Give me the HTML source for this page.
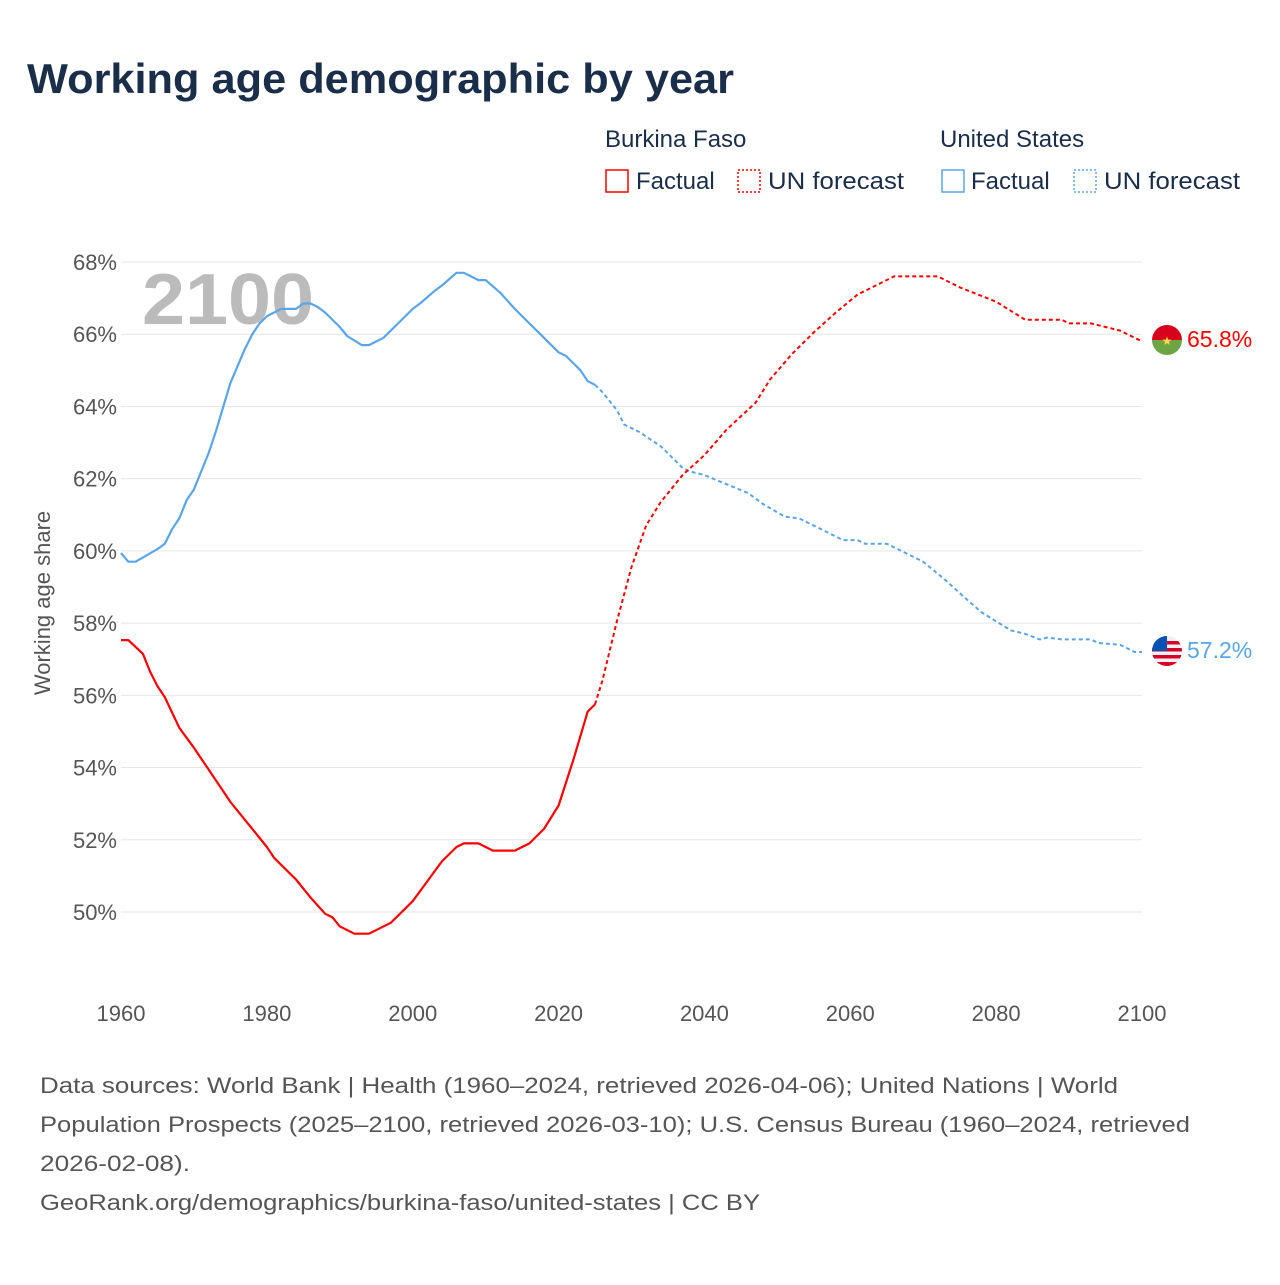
<!DOCTYPE html>
<html><head><meta charset="utf-8"><style>
body{margin:0;background:#fff;font-family:"Liberation Sans",sans-serif;}
#wrap{position:relative;width:1280px;height:1280px;}
</style></head><body><div id="wrap">
<svg id="svg" width="1280" height="1280">
<text x="27" y="93" font-size="42" font-weight="bold" fill="#1a2e4a" textLength="707" lengthAdjust="spacingAndGlyphs">Working age demographic by year</text>
<g font-size="24" fill="#1a2e4a">
<text x="605" y="147">Burkina Faso</text>
<text x="940" y="147">United States</text>
<g><rect x="606" y="170" width="22" height="22" fill="none" stroke="#f00" stroke-width="1.5"/><text x="636" y="189">Factual</text></g>
<g><rect x="738" y="170" width="22" height="22" fill="none" stroke="#f00" stroke-width="1.5" stroke-dasharray="2,2"/><text x="768" y="189" textLength="136" lengthAdjust="spacingAndGlyphs">UN forecast</text></g>
<g><rect x="942" y="170" width="22" height="22" fill="none" stroke="#5aa5e8" stroke-width="1.5"/><text x="971" y="189">Factual</text></g>
<g><rect x="1074" y="170" width="22" height="22" fill="none" stroke="#5aa5e8" stroke-width="1.5" stroke-dasharray="2,2"/><text x="1104" y="189" textLength="136" lengthAdjust="spacingAndGlyphs">UN forecast</text></g>
</g>
<text x="142" y="324" font-size="72" font-weight="bold" fill="#bbb" textLength="172" lengthAdjust="spacingAndGlyphs">2100</text>
<g id="grid"></g><g id="lines"></g>
<text transform="translate(50,603) rotate(-90)" text-anchor="middle" font-size="22" fill="#555">Working age share</text>
<g><clipPath id="c1"><circle cx="1167" cy="340" r="15"/></clipPath><g clip-path="url(#c1)"><rect x="1150" y="325" width="34" height="15" fill="#d9001b"/><rect x="1150" y="340" width="34" height="16" fill="#6da544"/></g><text x="1167" y="345" font-size="12" text-anchor="middle" fill="#ffda44">★</text></g>
<g><clipPath id="c2"><circle cx="1167" cy="651" r="15"/></clipPath><g clip-path="url(#c2)"><rect x="1150" y="636" width="34" height="30" fill="#f0f0f0"/><rect x="1150" y="641" width="34" height="3.5" fill="#d80027"/><rect x="1150" y="648" width="34" height="3.5" fill="#d80027"/><rect x="1150" y="655" width="34" height="3.5" fill="#d80027"/><rect x="1150" y="662" width="34" height="4" fill="#d80027"/><rect x="1150" y="636" width="17" height="15" fill="#0052b4"/></g></g>
<text x="1187" y="347" font-size="23" fill="#f00">65.8%</text>
<text x="1187" y="658" font-size="23" fill="#5aa5e8">57.2%</text>
<g font-size="22" fill="#555">
<text x="40" y="1093" textLength="1078" lengthAdjust="spacingAndGlyphs">Data sources: World Bank | Health (1960–2024, retrieved 2026-04-06); United Nations | World</text>
<text x="40" y="1132" textLength="1150" lengthAdjust="spacingAndGlyphs">Population Prospects (2025–2100, retrieved 2026-03-10); U.S. Census Bureau (1960–2024, retrieved</text>
<text x="40" y="1171" textLength="150" lengthAdjust="spacingAndGlyphs">2026-02-08).</text>
<text x="40" y="1210" textLength="720" lengthAdjust="spacingAndGlyphs">GeoRank.org/demographics/burkina-faso/united-states | CC BY</text>
</g>
</svg></div>
<script>
const usYears=[1960,1961,1962,1965,1966,1967,1968,1969,1970,1972,1973,1975,1977,1978,1979,1980,1982,1984,1985,1986,1987,1988,1990,1991,1993,1994,1996,1998,2000,2001,2003,2004,2006,2007,2008,2009,2010,2012,2014,2016,2018,2020,2021,2023,2024,2025,2026,2028,2029,2031,2034,2037,2038,2040,2043,2046,2048,2051,2053,2056,2059,2061,2062,2065,2067,2070,2073,2076,2078,2080,2082,2084,2086,2087,2089,2093,2094,2097,2099,2100];
const usValues=[59.94,59.7,59.7,60.05,60.2,60.6,60.9,61.4,61.7,62.7,63.3,64.65,65.6,66.0,66.3,66.5,66.7,66.7,66.85,66.85,66.75,66.6,66.2,65.95,65.7,65.7,65.9,66.3,66.7,66.85,67.2,67.35,67.7,67.7,67.6,67.5,67.5,67.15,66.7,66.3,65.9,65.5,65.4,65.0,64.7,64.6,64.4,63.9,63.5,63.3,62.9,62.3,62.2,62.1,61.85,61.6,61.3,60.95,60.9,60.6,60.3,60.3,60.2,60.2,60.0,59.7,59.2,58.65,58.3,58.05,57.8,57.7,57.55,57.6,57.55,57.55,57.45,57.4,57.2,57.2];
const bfYears=[1960,1961,1963,1964,1965,1966,1968,1970,1975,1976,1977,1978,1979,1980,1981,1984,1986,1988,1989,1990,1992,1994,1997,1998,2000,2004,2006,2007,2009,2011,2014,2016,2018,2020,2022,2024,2025,2026,2028,2030,2032,2034,2035,2037,2040,2043,2047,2049,2052,2055,2058,2061,2064,2066,2072,2075,2080,2084,2089,2090,2093,2097,2100];
const bfValues=[57.53,57.53,57.15,56.65,56.25,55.95,55.1,54.55,53.05,52.8,52.55,52.3,52.05,51.8,51.5,50.9,50.4,49.95,49.85,49.6,49.4,49.4,49.7,49.9,50.3,51.4,51.8,51.9,51.9,51.7,51.7,51.9,52.3,52.95,54.2,55.55,55.75,56.4,58.05,59.55,60.7,61.35,61.6,62.1,62.65,63.35,64.1,64.75,65.45,66.05,66.6,67.1,67.4,67.6,67.6,67.3,66.9,66.4,66.4,66.3,66.3,66.1,65.8];
const yTicks=[50,52,54,56,58,60,62,64,66,68];
const xTicks=[1960,1980,2000,2020,2040,2060,2080,2100];
const forecastStart=2025;
const NS="http://www.w3.org/2000/svg";
const X=y=>121+(y-1960)*(1142-121)/140;
const Y=v=>912-(v-50)*(912-262)/18;
const grid=document.getElementById('grid'),lines=document.getElementById('lines');
function mk(t,a,p){const e=document.createElementNS(NS,t);for(const k in a)e.setAttribute(k,a[k]);p.appendChild(e);return e;}
yTicks.forEach(v=>{
 const l=mk('line',{x1:121,x2:1142,y1:Y(v),y2:Y(v),stroke:'#e6e6e6','stroke-width':1},grid);
 
 
 const t=mk('text',{x:117,y:Y(v)+8,'text-anchor':'end','font-size':22,fill:'#555'},grid);t.textContent=v+'%';
 
 
});
xTicks.forEach(v=>{
 const t=mk('text',{x:X(v),y:1021,'text-anchor':'middle','font-size':22,fill:'#555'},grid);t.textContent=v;
 
 
});
function series(yrs,vals,color,name){
 const a=[],b=[];
 yrs.forEach((y,i)=>{const p=X(y).toFixed(1)+','+Y(vals[i]).toFixed(1);if(y<=forecastStart)a.push(p);if(y>=forecastStart)b.push(p);});
 const s=mk('polyline',{points:a.join(' '),fill:'none',stroke:color,'stroke-width':2.2,'stroke-linejoin':'round'},lines);
 
 
 const d=mk('polyline',{points:b.join(' '),fill:'none',stroke:color,'stroke-width':2,'stroke-dasharray':'4,3'},lines);
 
 
}
series(usYears,usValues,'#5aa5e8','us');
series(bfYears,bfValues,'#f00','burkina');
</script></body></html>
